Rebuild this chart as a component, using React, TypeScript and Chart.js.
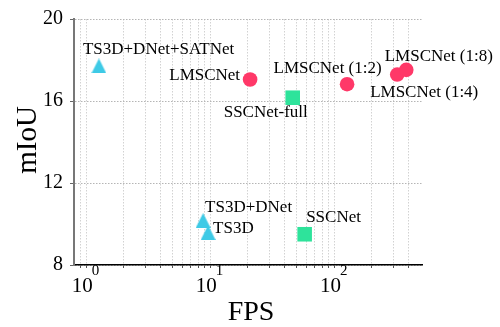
import React, { useEffect, useRef } from 'react';
import { Chart, registerables } from 'chart.js';

Chart.register(...registerables);

// ---- data ----
const cyanMethods = ['TS3D+DNet+SATNet', 'TS3D+DNet', 'TS3D'];
const cyanFps = [1.27, 8.78, 9.63];
const cyanMiou = [17.71, 10.17, 9.58];

const redMethods = ['LMSCNet', 'LMSCNet (1:2)', 'LMSCNet (1:4)', 'LMSCNet (1:8)'];
const redFps = [21.0, 127, 322, 381];
const redMiou = [17.05, 16.82, 17.29, 17.52];

const greenMethods = ['SSCNet-full', 'SSCNet'];
const greenFps = [46.3, 57.8];
const greenMiou = [16.16, 9.5];

const yTicks = [8, 12, 16, 20];
const xMajorTicks = [1, 10, 100];
const xMajorExponents = ['0', '1', '2'];
const xMinorTicks = [0.9, 2, 3, 4, 5, 6, 7, 8, 9, 20, 30, 40, 50, 60, 70, 80, 90, 200, 300, 400];

const xTitle = 'FPS';
const yTitle = 'mIoU';

// ---- styles ----
const CYAN = '#3ecae6';
const RED = '#ff3868';
const GREEN = '#2ee39b';
const SERIF = '"Liberation Serif", "Times New Roman", serif';

const labelStyle: Record<string, { dx: number; dy: number; align: CanvasTextAlign }> = {
  'TS3D+DNet+SATNet': { dx: -16, dy: -16, align: 'left' },
  'TS3D+DNet': { dx: 2, dy: -13, align: 'left' },
  'TS3D': { dx: 5, dy: -4, align: 'left' },
  'LMSCNet': { dx: -10, dy: -4, align: 'right' },
  'LMSCNet (1:2)': { dx: -19.5, dy: -16, align: 'center' },
  'LMSCNet (1:4)': { dx: 27, dy: 18, align: 'center' },
  'LMSCNet (1:8)': { dx: 32.5, dy: -13, align: 'center' },
  'SSCNet-full': { dx: -27, dy: 15, align: 'center' },
  'SSCNet': { dx: 1.5, dy: -16.5, align: 'left' },
};

function makeTriangle(color: string, size: number): HTMLCanvasElement {
  const c = document.createElement('canvas');
  c.width = size;
  c.height = size;
  const ctx = c.getContext('2d')!;
  ctx.fillStyle = color;
  ctx.beginPath();
  ctx.moveTo(size / 2, 0);
  ctx.lineTo(size, size);
  ctx.lineTo(0, size);
  ctx.closePath();
  ctx.fill();
  return c;
}

const textPlugin = {
  id: 'customText',
  afterDraw(chart: any) {
    const ctx: CanvasRenderingContext2D = chart.ctx;
    const xs = chart.scales.x;
    const area = chart.chartArea;
    ctx.save();
    ctx.fillStyle = '#000';

    // x tick labels 10^n
    xMajorTicks.forEach((v, i) => {
      const px = xs.getPixelForValue(v);
      ctx.font = `21px ${SERIF}`;
      const w1 = ctx.measureText('10').width;
      ctx.font = `15px ${SERIF}`;
      const w2 = ctx.measureText(xMajorExponents[i]).width;
      const start = px - (w1 + w2) / 2;
      ctx.textAlign = 'left';
      ctx.textBaseline = 'alphabetic';
      ctx.font = `21px ${SERIF}`;
      ctx.fillText('10', start, 292);
      ctx.font = `15px ${SERIF}`;
      ctx.fillText(xMajorExponents[i], start + w1 - 1, 275);
    });

    // axis titles
    ctx.font = `28px ${SERIF}`;
    ctx.textAlign = 'center';
    ctx.textBaseline = 'alphabetic';
    ctx.fillText(xTitle, (area.left + area.right) / 2 + 3, 320);

    ctx.save();
    ctx.translate(36, 140);
    ctx.rotate(-Math.PI / 2);
    ctx.font = `29px ${SERIF}`;
    ctx.fillText(yTitle, 0, 0);
    ctx.restore();

    // point labels
    const groups = [cyanMethods, redMethods, greenMethods];
    ctx.font = `17px ${SERIF}`;
    ctx.textBaseline = 'middle';
    groups.forEach((names, di) => {
      const meta = chart.getDatasetMeta(di);
      names.forEach((name, j) => {
        const el = meta.data[j];
        const st = labelStyle[name];
        ctx.textAlign = st.align;
        ctx.fillText(name, el.x + st.dx, el.y + st.dy);
      });
    });
    ctx.restore();
  },
};

export default function App() {
  const ref = useRef<HTMLCanvasElement | null>(null);

  useEffect(() => {
    const canvas = ref.current;
    if (!canvas) return;
    const tri = makeTriangle(CYAN, 15);
    const chart = new Chart(canvas, {
      type: 'scatter',
      data: {
        datasets: [
          {
            label: 'TS3D',
            data: cyanFps.map((x, i) => ({ x, y: cyanMiou[i] })),
            pointStyle: tri as any,
            pointRadius: 7.5,
            pointHoverRadius: 7.5,
            backgroundColor: CYAN,
            borderWidth: 0,
          },
          {
            label: 'LMSCNet',
            data: redFps.map((x, i) => ({ x, y: redMiou[i] })),
            pointStyle: 'circle',
            pointRadius: 7.3,
            pointHoverRadius: 7.3,
            backgroundColor: RED,
            borderWidth: 0,
          },
          {
            label: 'SSCNet',
            data: greenFps.map((x, i) => ({ x, y: greenMiou[i] })),
            pointStyle: 'rect',
            pointRadius: 10.3,
            pointHoverRadius: 10.3,
            backgroundColor: GREEN,
            borderWidth: 0,
          },
        ],
      },
      options: {
        responsive: false,
        animation: false,
        events: [],
        layout: { padding: { top: 10, right: 78, left: 0, bottom: 0 } },
        plugins: { legend: { display: false }, tooltip: { enabled: false } },
        scales: {
          x: {
            type: 'logarithmic',
            min: 0.8,
            max: 510,
            afterBuildTicks: (s: any) => {
              const all = [...xMinorTicks, ...xMajorTicks].sort((a, b) => a - b);
              s.ticks = all.map((v) => ({ value: v, major: xMajorTicks.includes(v) }));
            },
            afterFit: (s: any) => {
              s.height = 62;
            },
            ticks: { display: false },
            grid: {
              color: '#d2d2d2',
              lineWidth: 1,
              drawTicks: true,
              tickLength: 3,
              tickColor: '#555',
              tickWidth: 1,
              tickBorderDash: [],
            },
            border: { display: true, color: '#000', width: 1.5, dash: [1.5, 1.5] },
          },
          y: {
            min: 8,
            max: 20,
            afterBuildTicks: (s: any) => {
              s.ticks = yTicks.map((v) => ({ value: v }));
            },
            afterFit: (s: any) => {
              s.width = 74;
            },
            ticks: {
              font: { family: 'Liberation Serif', size: 20 },
              color: '#000',
              padding: 7,
            },
            grid: {
              color: '#b5b5b5',
              lineWidth: 1,
              tickLength: 4,
              tickColor: '#666',
              tickWidth: 1,
              tickBorderDash: [],
            },
            border: { display: true, color: '#777', width: 2, dash: [1.5, 1.5] },
          },
        },
      },
      plugins: [textPlugin],
    } as any);
    return () => chart.destroy();
  }, []);

  return (
    <div style={{ position: 'fixed', left: 0, top: 0, width: 500, height: 327, background: '#fff' }}>
      <canvas ref={ref} width={500} height={327} style={{ width: 500, height: 327 }} />
    </div>
  );
}
